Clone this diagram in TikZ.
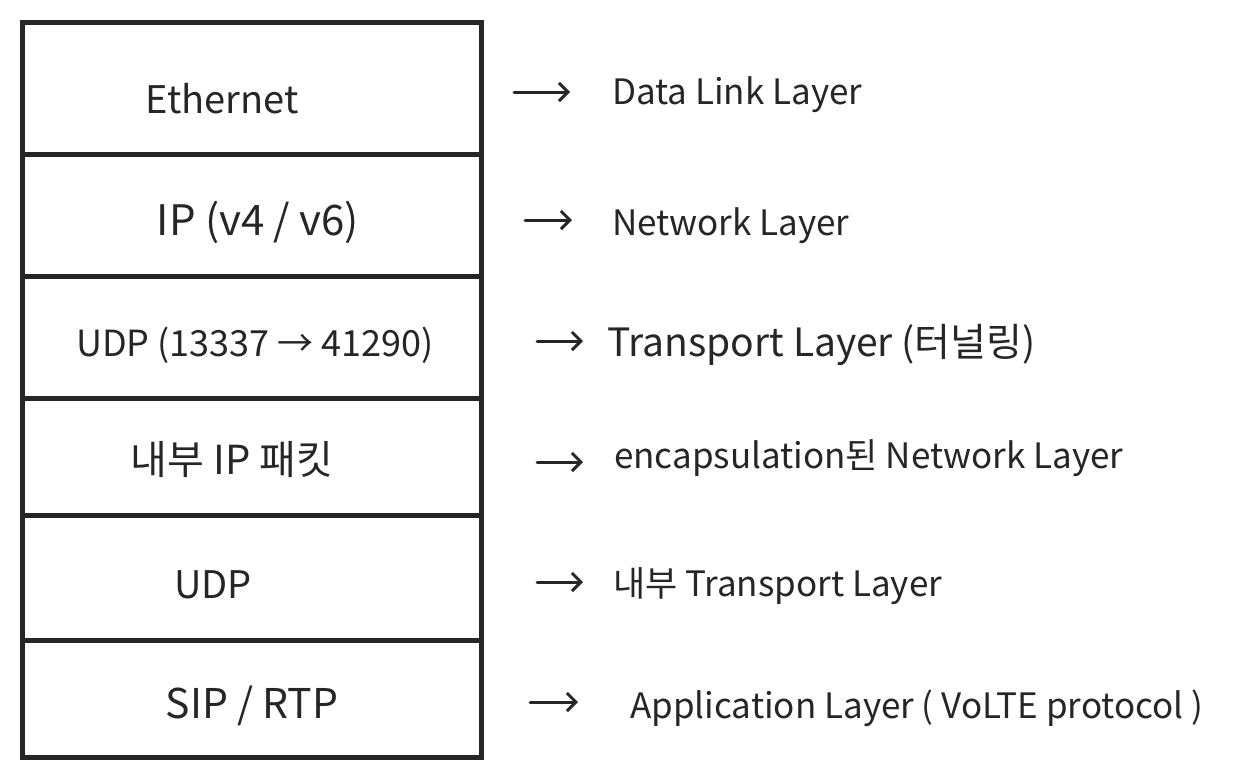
\documentclass[tikz,border=0pt]{standalone}
\usepackage{fontspec}
\setmainfont{Noto Sans CJK KR}
\usetikzlibrary{arrows.meta}
\definecolor{ink}{HTML}{262626}
\tikzset{
  layerbox/.style={draw=ink, line width=5pt, minimum width=459pt, inner sep=0pt, outer sep=0pt},
  ltext/.style={anchor=base, text=ink, inner sep=0pt, font=\fontsize{38}{44}\selectfont},
  rtext/.style={anchor=base west, text=ink, inner sep=0pt, font=\fontsize{35}{42}\selectfont},
  maparrow/.style={draw=ink, line width=3pt, line cap=round, -{Straight Barb[length=9pt,width=18pt,line width=3pt]}}
}
\begin{document}
\begin{tikzpicture}[x=1pt,y=-1pt]
\useasboundingbox (0,0) rectangle (1248,780);
\fill[white] (0,0) rectangle (1248,780);
% stack rows
\node[layerbox, minimum height=132pt] (r1) at (251.5,88) {};
\node[layerbox, minimum height=122pt] (r2) at (251.5,215) {};
\node[layerbox, minimum height=122pt] (r3) at (251.5,337) {};
\node[layerbox, minimum height=117pt] (r4) at (251.5,456.5) {};
\node[layerbox, minimum height=125pt] (r5) at (251.5,577.5) {};
\node[layerbox, minimum height=117pt] (r6) at (251.5,698.5) {};
% row texts
\node[ltext] (t1) at (222,113) {Ethernet};
\node[ltext, font=\fontsize{42}{48}\selectfont] (t2) at (258,235) {IP (v4 / v6)};
\node[ltext, font=\fontsize{36}{42}\selectfont] (t3) at (255,356) {UDP (13337 → 41290)};
\node[ltext, font=\fontsize{40}{46}\selectfont] (t4) at (232,474) {내부 IP 패킷};
\node[ltext] (t5) at (213,598) {UDP};
\node[ltext, font=\fontsize{41}{47}\selectfont] (t6) at (252,718) {SIP / RTP};
% right labels
\node[rtext] (l1) at (612,104) {Data Link Layer};
\node[rtext] (l2) at (612,235) {Network Layer};
\node[rtext, font=\fontsize{39}{46}\selectfont] (l3) at (607,356) {Transport Layer (터널링)};
\node[rtext] (l4) at (614,468) {encapsulation된 Network Layer};
\node[rtext] (l5) at (613,596) {내부 Transport Layer};
\node[rtext] (l6) at (630,718) {Application Layer ( VoLTE protocol )};
% arrows
\coordinate (a1) at (514,92);  \coordinate (b1) at (570,92);
\coordinate (a2) at (525,220); \coordinate (b2) at (572,220);
\coordinate (a3) at (537,341); \coordinate (b3) at (583,341);
\coordinate (a4) at (537,462); \coordinate (b4) at (583,462);
\coordinate (a5) at (537,582); \coordinate (b5) at (583,582);
\coordinate (a6) at (530,702); \coordinate (b6) at (578,702);
\draw[maparrow] (a1) -- (b1);
\draw[maparrow] (a2) -- (b2);
\draw[maparrow] (a3) -- (b3);
\draw[maparrow] (a4) -- (b4);
\draw[maparrow] (a5) -- (b5);
\draw[maparrow] (a6) -- (b6);
\end{tikzpicture}
\end{document}
